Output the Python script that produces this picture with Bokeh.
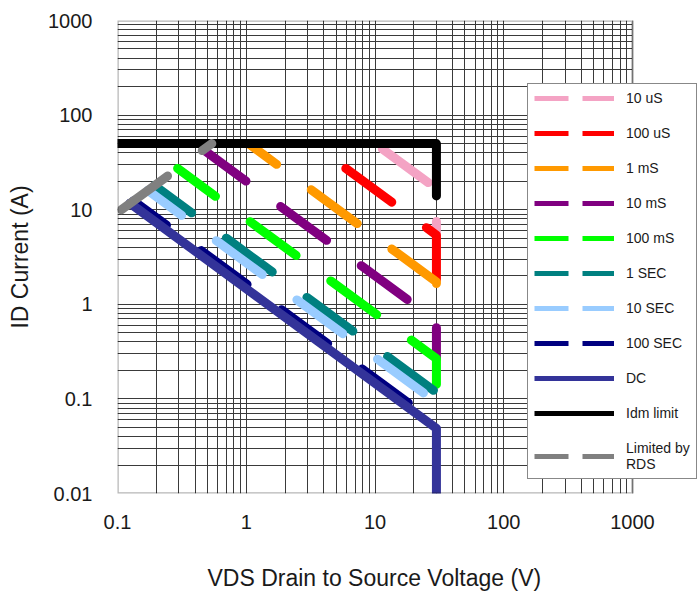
from bokeh.plotting import figure
from bokeh.models import Range1d, FixedTicker, Legend, LegendItem, Title, BoxAnnotation
from bokeh.embed import file_html
from bokeh.resources import INLINE

# ---- axis ticks ----
x_ticks = [0.1, 1, 10, 100, 1000]
x_tick_labels = ["0.1", "1", "10", "100", "1000"]
y_ticks = [0.01, 0.1, 1, 10, 100, 1000]
y_tick_labels = ["0.01", "0.1", "1", "10", "100", "1000"]
minor_mults = [2, 3, 4, 5, 6, 7, 8, 9]

# ---- SOA curves (VDS in V, ID in A) ----
vds_10us = [10.0, 30.0, 30.0]
id_10us = [50.0, 16.7, 5.4]
vds_100us = [3.24, 30.0, 30.0]
id_100us = [50.0, 5.4, 1.73]
vds_1ms = [1.04, 30.0, 30.0]
id_1ms = [50.0, 1.73, 0.667]
vds_10ms = [0.464, 30.0, 30.0]
id_10ms = [43.1, 0.667, 0.267]
vds_100ms = [0.293, 30.0, 30.0]
id_100ms = [27.3, 0.267, 0.117]
vds_1s = [0.194, 30.0, 30.0]
id_1s = [18.0, 0.117, 0.0917]
vds_10s = [0.172, 30.0, 30.0]
id_10s = [16.0, 0.0917, 0.055]
vds_100s = [0.133, 30.0, 30.0]
id_100s = [12.4, 0.055, 0.0487]
vds_dc = [0.125, 30.0, 30.0]
id_dc = [11.7, 0.0487, 0.01]
vds_idm = [0.1, 30.0, 30.0]
id_idm = [50.0, 50.0, 14.0]
vds_rds = [0.1, 0.54]
id_rds = [9.3, 50.0]

labels = ["10 uS", "100 uS", "1 mS", "10 mS", "100 mS", "1 SEC", "10 SEC",
          "100 SEC", "DC", "Idm limit", "Limited by\nRDS"]
colors = ["#F4A3C4", "#FF0000", "#FF9900", "#800080", "#00FF00", "#008080",
          "#99CCFF", "#000080", "#333399", "#000000", "#808080"]

curves = [
    (vds_10us, id_10us, "57 43", 91),
    (vds_100us, id_100us, "57 43", 58),
    (vds_1ms, id_1ms, "57 43", 22),
    (vds_10ms, id_10ms, "57 43", 4),
    (vds_100ms, id_100ms, "57 43", 10),
    (vds_1s, id_1s, "57 43", 11),
    (vds_10s, id_10s, "57 43", 15),
    (vds_100s, id_100s, "57 43", 16),
    (vds_dc, id_dc, "solid", 0),
    (vds_idm, id_idm, "solid", 0),
    (vds_rds, id_rds, "57 43", 95),
]

FONT = "Liberation Sans"

# frame spans 117..698 px; the decades 0.1..1000 occupy 117..632 px
x_end = 10 ** (-1 + 4 * 581 / 515)

p = figure(width=698, height=600, x_axis_type="log", y_axis_type="log",
           x_range=Range1d(0.1, x_end), y_range=Range1d(0.01, 1000),
           output_backend="svg", toolbar_location=None,
           min_border_left=117, min_border_right=0,
           min_border_top=20, min_border_bottom=107)
p.background_fill_color = "white"
p.border_fill_color = "white"
p.outline_line_color = None

x_minor = [m * t for t in x_ticks[:-1] for m in minor_mults]
y_minor = [m * t for t in y_ticks[:-1] for m in minor_mults]
p.xaxis.ticker = FixedTicker(ticks=x_ticks, minor_ticks=x_minor)
p.yaxis.ticker = FixedTicker(ticks=y_ticks, minor_ticks=y_minor)
p.xaxis.major_label_overrides = {t: s for t, s in zip(x_ticks, x_tick_labels)}
p.yaxis.major_label_overrides = {t: s for t, s in zip(y_ticks, y_tick_labels)}

for ax in (p.xaxis, p.yaxis):
    ax.axis_line_color = None
    ax.major_tick_line_color = None
    ax.minor_tick_line_color = None
    ax.major_tick_out = 0
    ax.minor_tick_out = 0
    ax.major_label_text_font = FONT
    ax.major_label_text_font_size = "20px"
    ax.major_label_text_color = "#1a1a1a"
    ax.axis_label_text_font = FONT
    ax.axis_label_text_font_size = "23px"
    ax.axis_label_text_font_style = "normal"
    ax.axis_label_text_color = "#1a1a1a"

p.yaxis.axis_label = "ID Current (A)"
p.xaxis.major_label_standoff = 21
p.yaxis.major_label_standoff = 25
p.yaxis.axis_label_standoff = 12

xt = Title(text="VDS Drain to Source Voltage (V)", align="left", offset=90,
           text_font=FONT, text_font_size="23px", text_font_style="normal",
           text_color="#1a1a1a", standoff=0, padding=(0, 0, 31, 0))
p.add_layout(xt, "below")

for g in (p.xgrid, p.ygrid):
    g.grid_line_color = "#3a3a3a"
    g.grid_line_width = 1
    g.minor_grid_line_color = "#3a3a3a"
    g.minor_grid_line_width = 1

for (xs, ys, dash, off), col in zip(curves, colors):
    p.line(xs, ys, line_color=col, line_width=9, line_dash=dash,
           line_dash_offset=off, line_cap="round", line_join="round")

# blank the strip right of 1000 V (legend sits there) and draw the plot border
p.add_layout(BoxAnnotation(left=x_ticks[-1], fill_color="white", fill_alpha=1.0,
                           line_color=None))
p.add_layout(BoxAnnotation(left=x_ticks[0], right=x_ticks[-1],
                           bottom=y_ticks[0], top=y_ticks[-1],
                           fill_alpha=0.0, line_color="#111111", line_width=2.5))

# legend proxies (NaN data, nothing drawn), styled like the reference legend
nan = float("nan")
items = []
for lab, col, (xs, ys, dash, off) in zip(labels, colors, curves):
    ldash = "solid" if dash == "solid" else "34 14"
    r = p.line([nan], [nan], line_color=col, line_width=5, line_dash=ldash)
    items.append(LegendItem(label=lab, renderers=[r]))

legend = Legend(items=items, location=(410, 14), margin=0, padding=6,
                spacing=19, glyph_width=80, glyph_height=16, label_height=16,
                label_standoff=12, label_text_font=FONT,
                label_text_font_size="14px", label_text_color="#1a1a1a",
                border_line_color="#111111", border_line_width=1.5,
                background_fill_color="white", background_fill_alpha=1.0)
p.add_layout(legend)

open("out.html", "w").write(file_html(p, INLINE))
